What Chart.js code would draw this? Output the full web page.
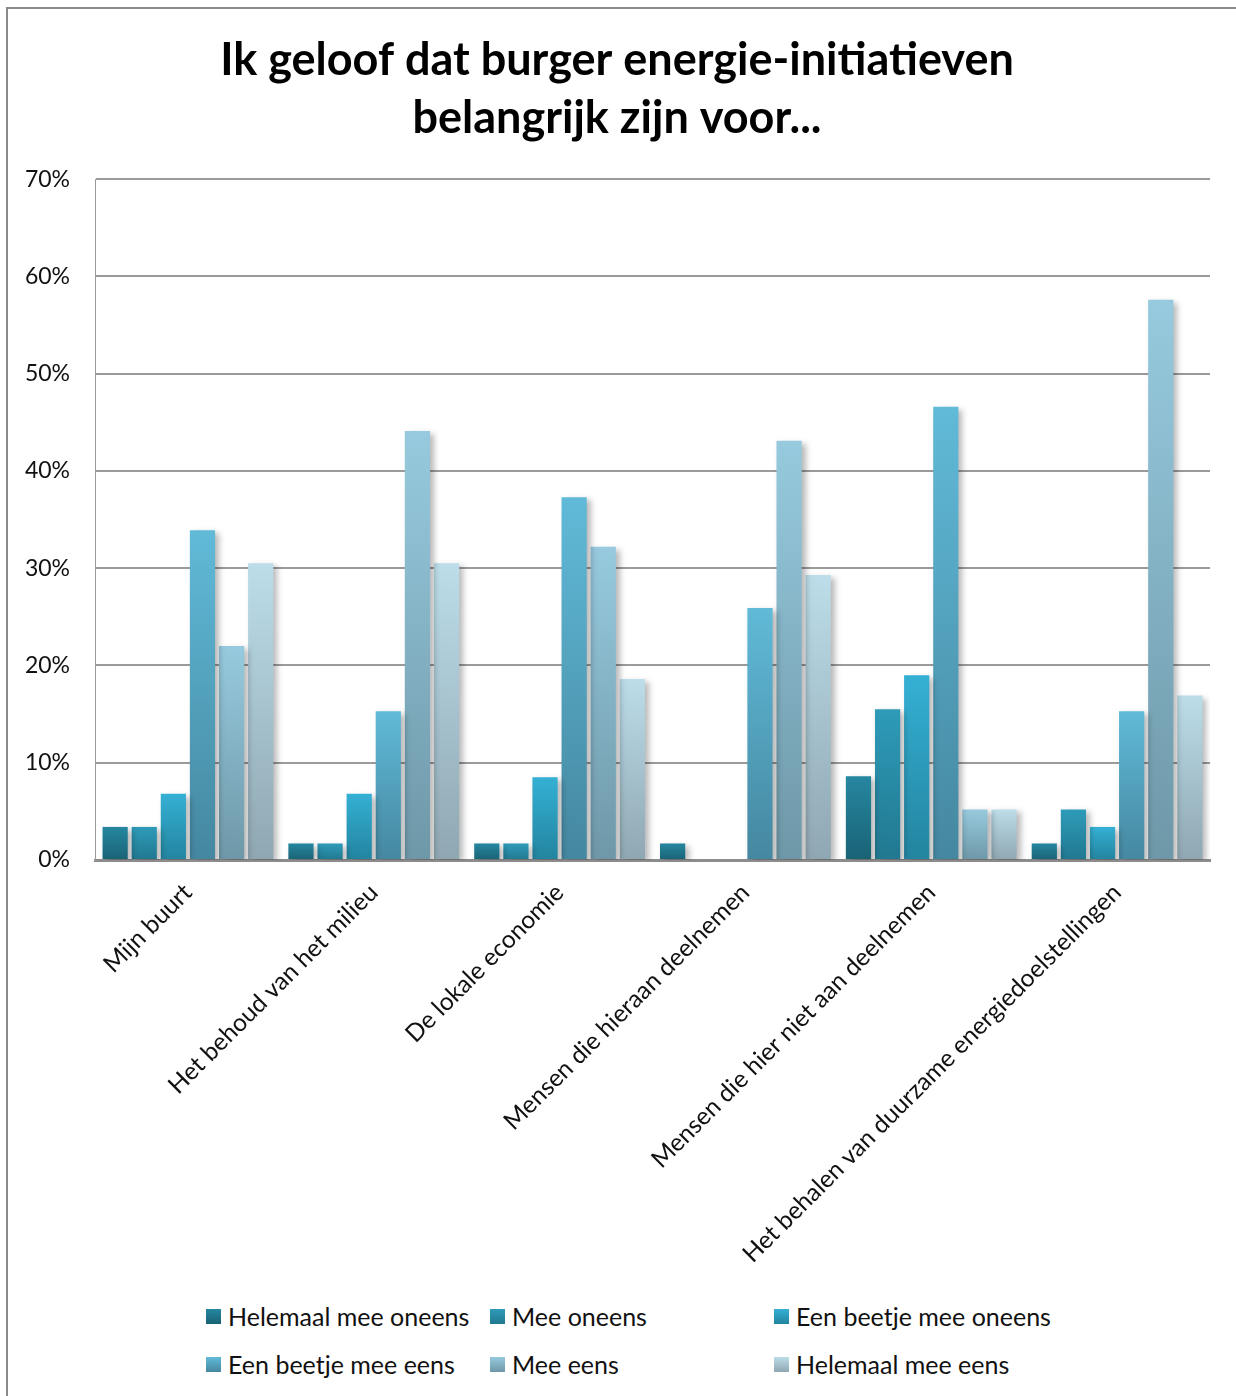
<!DOCTYPE html>
<html>
<head>
<meta charset="utf-8">
<script src="https://cdn.jsdelivr.net/npm/chart.js@4"></script>
<style>
  body { margin: 0; background: #fff; width: 1236px; height: 1396px; overflow: hidden; position: relative; font-family: Lato, "Noto Sans", sans-serif; }
  #frame { position: absolute; left: 6px; top: 7px; width: 1300px; height: 1450px; border-left: 2px solid #8a8a8a; border-top: 2px solid #8a8a8a; }
  #wrap { position: absolute; left: 0; top: 0; width: 1236px; height: 1290px; }
  #legend { position: absolute; left: 206px; top: 1302px; width: 900px; display: grid; grid-template-columns: 284px 284px 300px; row-gap: 20px; font-size: 25px; color: #111; }
  #legend .item { display: flex; align-items: center; height: 28px; white-space: nowrap; }
  #legend .box { width: 15px; height: 15px; margin-right: 7px; }
</style>
</head>
<body>
<div id="frame"></div>
<div id="wrap"><canvas id="chart"></canvas></div>
<div id="legend"></div>
<script>
// categories + answer series (percent of respondents)
const categories = [
  'Mijn buurt',
  'Het behoud van het milieu',
  'De lokale economie',
  'Mensen die hieraan deelnemen',
  'Mensen die hier niet aan deelnemen',
  'Het behalen van duurzame energiedoelstellingen'
];
const seriesNames = [
  'Helemaal mee oneens', 'Mee oneens', 'Een beetje mee oneens',
  'Een beetje mee eens', 'Mee eens', 'Helemaal mee eens'
];
const helemaalOneens = [3.4, 1.7, 1.7, 1.7, 8.6, 1.7];
const meeOneens      = [3.4, 1.7, 1.7, 0,   15.5, 5.2];
const beetjeOneens   = [6.8, 6.8, 8.5, 0,   19.0, 3.4];
const beetjeEens     = [33.9, 15.3, 37.3, 25.9, 46.6, 15.3];
const meeEens        = [22.0, 44.1, 32.2, 43.1, 5.2, 57.6];
const helemaalEens   = [30.5, 30.5, 18.6, 29.3, 5.2, 16.9];
const yTicks = [0, 10, 20, 30, 40, 50, 60, 70];

// gradient top / bottom per series
const topColors    = ['#2587a0', '#2e9bb9', '#34b0d4', '#60bad8', '#97cade', '#bcdde9'];
const bottomColors = ['#1a6275', '#217890', '#23849f', '#4587a0', '#6e98a8', '#8fa7b2'];

const allSeries = [helemaalOneens, meeOneens, beetjeOneens, beetjeEens, meeEens, helemaalEens];

function barGradient(i) {
  return (ctx) => {
    const chart = ctx.chart;
    const y = chart.scales.y;
    if (!chart.chartArea || !y || ctx.type !== 'data') return topColors[i];
    const top = y.getPixelForValue(ctx.raw);
    const base = y.getPixelForValue(0);
    if (base - top < 1) return topColors[i];
    const g = chart.ctx.createLinearGradient(0, top, 0, base);
    g.addColorStop(0, topColors[i]);
    g.addColorStop(1, bottomColors[i]);
    return g;
  };
}

// soft drop shadow behind the bars
const barShadow = {
  id: 'barShadow',
  beforeDatasetsDraw(chart) {
    const c = chart.ctx;
    c.save();
    c.shadowColor = 'rgba(0,0,0,0.28)';
    c.shadowBlur = 6;
    c.shadowOffsetX = 4;
    c.shadowOffsetY = 3;
  },
  afterDatasetsDraw(chart) {
    chart.ctx.restore();
  }
};

const chart = new Chart(document.getElementById('chart'), {
  type: 'bar',
  data: {
    labels: categories,
    datasets: allSeries.map((d, i) => ({
      label: seriesNames[i],
      data: d,
      backgroundColor: barGradient(i),
      borderWidth: 0,
      categoryPercentage: 0.94,
      barPercentage: 0.866
    }))
  },
  options: {
    responsive: true,
    maintainAspectRatio: false,
    animation: false,
    layout: { padding: { left: 24, right: 26, top: 0, bottom: 0 } },
    plugins: {
      legend: { display: false },
      tooltip: { enabled: false },
      title: {
        display: true,
        text: ['Ik geloof dat burger energie-initiatieven', 'belangrijk zijn voor...'],
        color: '#000',
        font: { family: 'Lato', size: 45, weight: 'bold', lineHeight: 1.29 },
        padding: { top: 31, bottom: 32 }
      }
    },
    scales: {
      x: {
        grid: { display: false },
        border: { display: true, color: '#8c8c8c', width: 3 },
        ticks: {
          color: '#111',
          font: { family: 'Lato', size: 24.5 },
          minRotation: 45,
          maxRotation: 45,
          padding: 10,
          autoSkip: false
        },
        afterFit(scale) { scale.height = 430; }
      },
      y: {
        min: 0,
        max: 70,
        afterBuildTicks(scale) { scale.ticks = yTicks.map(v => ({ value: v })); },
        grid: { color: '#9a9a9a', lineWidth: 2, drawTicks: false },
        border: { display: true, color: '#9a9a9a', width: 1 },
        ticks: {
          color: '#111',
          font: { family: 'Lato', size: 23 },
          padding: 25,
          callback: v => v + '%'
        },
        afterFit(scale) { scale.width = 71; }
      }
    }
  },
  plugins: [barShadow]
});

// legend in three columns, like the original
const legend = document.getElementById('legend');
seriesNames.forEach((name, i) => {
  const item = document.createElement('div');
  item.className = 'item';
  const box = document.createElement('span');
  box.className = 'box';
  box.style.background = `linear-gradient(${topColors[i]}, ${bottomColors[i]})`;
  const txt = document.createElement('span');
  txt.textContent = name;
  item.appendChild(box);
  item.appendChild(txt);
  legend.appendChild(item);
});
</script>
</body>
</html>
